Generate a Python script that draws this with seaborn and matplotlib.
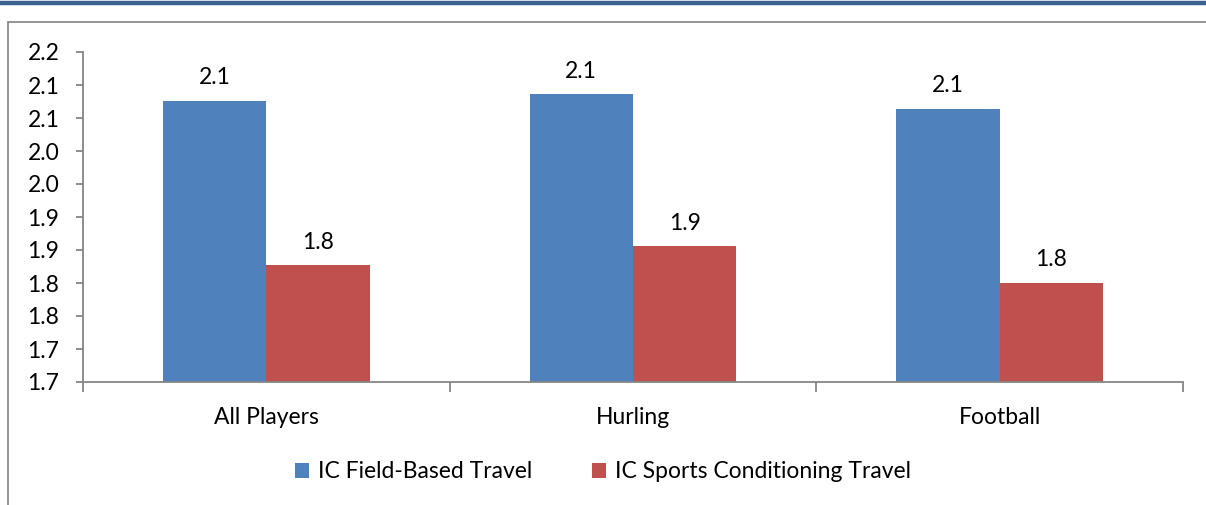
import matplotlib
matplotlib.use("Agg")
import matplotlib.pyplot as plt
from matplotlib.lines import Line2D
import seaborn as sns
import pandas as pd
import numpy as np

categories = ["All Players", "Hurling", "Football"]
series_names = ["IC Field-Based Travel", "IC Sports Conditioning Travel"]
field_based = [2.076, 2.086, 2.064]
sports_cond = [1.827, 1.856, 1.800]
y_ticks = [1.65, 1.70, 1.75, 1.80, 1.85, 1.90, 1.95, 2.00, 2.05, 2.10, 2.15]
y_tick_labels = ["1.7", "1.7", "1.8", "1.8", "1.9", "1.9", "2.0", "2.0", "2.1", "2.1", "2.2"]
colors = ["#4F81BD", "#C0504D"]

df = pd.DataFrame({
    "category": categories * 2,
    "series": [series_names[0]] * 3 + [series_names[1]] * 3,
    "value": field_based + sports_cond,
})

sns.set_theme(style="white")
plt.rcParams["font.family"] = ["Lato", "DejaVu Sans"]

FS = 16.5
W, H = 1206, 505
fig = plt.figure(figsize=(W / 100, H / 100), dpi=100)
ax = fig.add_axes([83 / W, (H - 382) / H, 1100 / W, 330 / H])

sns.barplot(data=df, x="category", y="value", hue="series", palette=colors,
            width=0.564, gap=0, saturation=1, ax=ax, legend=True, linewidth=0)

ax.set_ylim(1.65, 2.15)
ax.set_xlim(-0.5, 2.5)
ax.set_yticks(y_ticks)
ax.set_yticklabels(y_tick_labels)
ax.set_xlabel("")
ax.set_ylabel("")

for c in ax.containers:
    ax.bar_label(c, fmt="%.1f", padding=9, fontsize=FS, color="black")

for s in ["top", "right"]:
    ax.spines[s].set_visible(False)
for s in ["left", "bottom"]:
    ax.spines[s].set_color("#868686")
    ax.spines[s].set_linewidth(1.3)

ax.tick_params(axis="y", which="major", direction="out", length=5, width=1.3,
               color="#868686", labelsize=FS, labelcolor="black", pad=12, left=True)
ax.tick_params(axis="x", which="major", length=0, labelsize=FS, labelcolor="black", pad=18)
ax.set_xticks([-0.5, 0.5, 1.5, 2.5], minor=True)
ax.tick_params(axis="x", which="minor", direction="out", length=7, width=1.3,
               color="#868686", bottom=True)

leg = ax.legend(loc="center", bbox_to_anchor=(0.5, (H - 472) / H), bbox_transform=fig.transFigure,
                ncol=2, frameon=False, fontsize=FS, handlelength=0.6, handleheight=0.6,
                handletextpad=0.4, columnspacing=2.6)
for t in leg.get_texts():
    t.set_color("black")

# frame lines
fig.add_artist(Line2D([0, 1], [(H - 3) / H, (H - 3) / H], transform=fig.transFigure,
                      color="#3A6190", linewidth=3.2))
fig.add_artist(Line2D([8 / W, 1], [(H - 21.5) / H, (H - 21.5) / H], transform=fig.transFigure,
                      color="#8C8C8C", linewidth=1.3))
fig.add_artist(Line2D([8 / W, 8 / W], [0, (H - 21.5) / H], transform=fig.transFigure,
                      color="#8C8C8C", linewidth=1.3))

fig.savefig("out.png", dpi=100, facecolor="white")
